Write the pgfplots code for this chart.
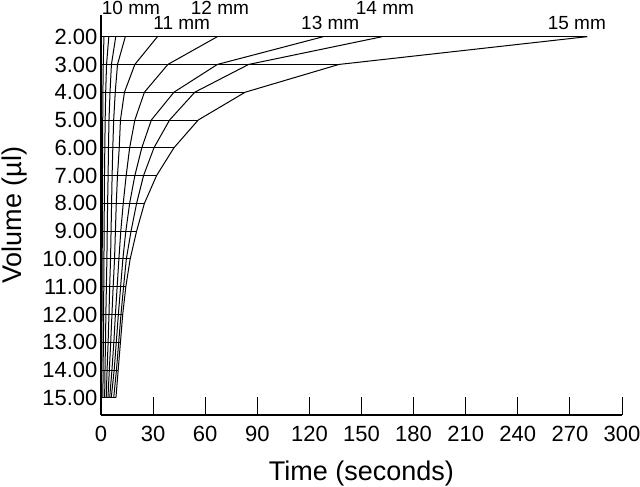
\documentclass[border=0pt]{standalone}
\usepackage{fontspec}
\setmainfont{Liberation Sans}
\usepackage{pgfplots}
\pgfplotsset{compat=1.18}
\usepackage{pgfplotstable}

% time (s) to take up each volume, one column per strip length
\pgfplotstableread{
v   t7    t8   t9   t10  t11  t12  t13  t14  t15
2   1.7   4.5  8.5  14.0 32.5 67   128  162  280
3   1.3   3.2  6.0  9.5  19.5 38.5 67   85   137
4   1.1   2.7  5.2  8.2  13.5 25   42   54   83
5   1.0   2.4  4.6  7.3  11.2 19.5 29   39.5 56
6   0.9   2.2  4.3  6.8  10.5 16.5 23.5 30.5 42
7   0.85  2.0  4.1  6.4  9.5  14.5 19.5 24.5 32
8   0.8   1.9  3.8  6.1  8.8  12.8 16.5 20.5 25
9   0.75  1.8  3.6  5.8  8.3  11.4 14.3 17.3 20.5
10  0.7   1.7  3.4  5.5  7.8  10.3 12.6 14.6 16.8
11  0.65  1.6  3.1  5.0  7.0  9.3  11.3 13.0 14.3
12  0.6   1.5  2.8  4.6  6.3  8.3  10.0 11.5 12.5
13  0.5   1.4  2.6  4.1  5.6  7.4  8.8  10.2 11.2
14  0.4   1.2  2.3  3.5  4.8  6.3  7.6  8.9  9.9
15  0.3   1.1  2.1  3.0  4.0  5.0  5.9  7.3  8.6
}\data

\begin{document}
\begin{tikzpicture}
\useasboundingbox (-101pt,-72pt) rectangle (539pt,415pt);
\begin{axis}[
  scale only axis,
  width=521pt, height=400pt,
  xmin=0, xmax=300, ymin=1.22, ymax=15.62,
  y dir=reverse,
  axis x line=bottom, axis y line=left,
  axis line style={-, line width=1.3pt},
  xtick={0,30,...,300},
  ytick={2,...,15},
  tick align=inside,
  major tick length=18pt,
  xtick style={line width=1pt, black},
  ytick style={draw=none},
  /pgf/number format/assume math mode=true,
  yticklabel style={/pgf/number format/.cd, fixed, fixed zerofill, precision=2},
  xticklabel style={yshift=-8pt, /pgf/number format/.cd, fixed, precision=0},
  tick label style={font=\fontsize{22}{24}\selectfont},
  xlabel={Time (seconds)},
  ylabel={Volume (µl)},
  label style={font=\fontsize{27}{29}\selectfont},
  xlabel style={yshift=-12pt},
  ylabel style={yshift=8pt},
  clip=false,
]
  \addplot[xcomb, black, line width=1pt] table[x=t15, y=v] {\data};
  \addplot[black, line width=1pt] table[x=t7,  y=v] {\data};
  \addplot[black, line width=1pt] table[x=t8,  y=v] {\data};
  \addplot[black, line width=1pt] table[x=t9,  y=v] {\data};
  \addplot[black, line width=1pt] table[x=t10, y=v] {\data};
  \addplot[black, line width=1pt] table[x=t11, y=v] {\data};
  \addplot[black, line width=1pt] table[x=t12, y=v] {\data};
  \addplot[black, line width=1pt] table[x=t13, y=v] {\data};
  \addplot[black, line width=1pt] table[x=t14, y=v] {\data};
  \addplot[black, line width=1pt] table[x=t15, y=v] {\data};

  \begin{scope}[every node/.style={font=\fontsize{19}{21}\selectfont, inner sep=0pt}]
    \node[anchor=west] at (axis cs:0.4,0.97) {10 mm};
    \node at (axis cs:46.5,1.52) {11 mm};
    \node at (axis cs:68.5,0.97) {12 mm};
    \node at (axis cs:132,1.52) {13 mm};
    \node at (axis cs:163.5,0.97) {14 mm};
    \node at (axis cs:274,1.52) {15 mm};
  \end{scope}
\end{axis}
\end{tikzpicture}
\end{document}
